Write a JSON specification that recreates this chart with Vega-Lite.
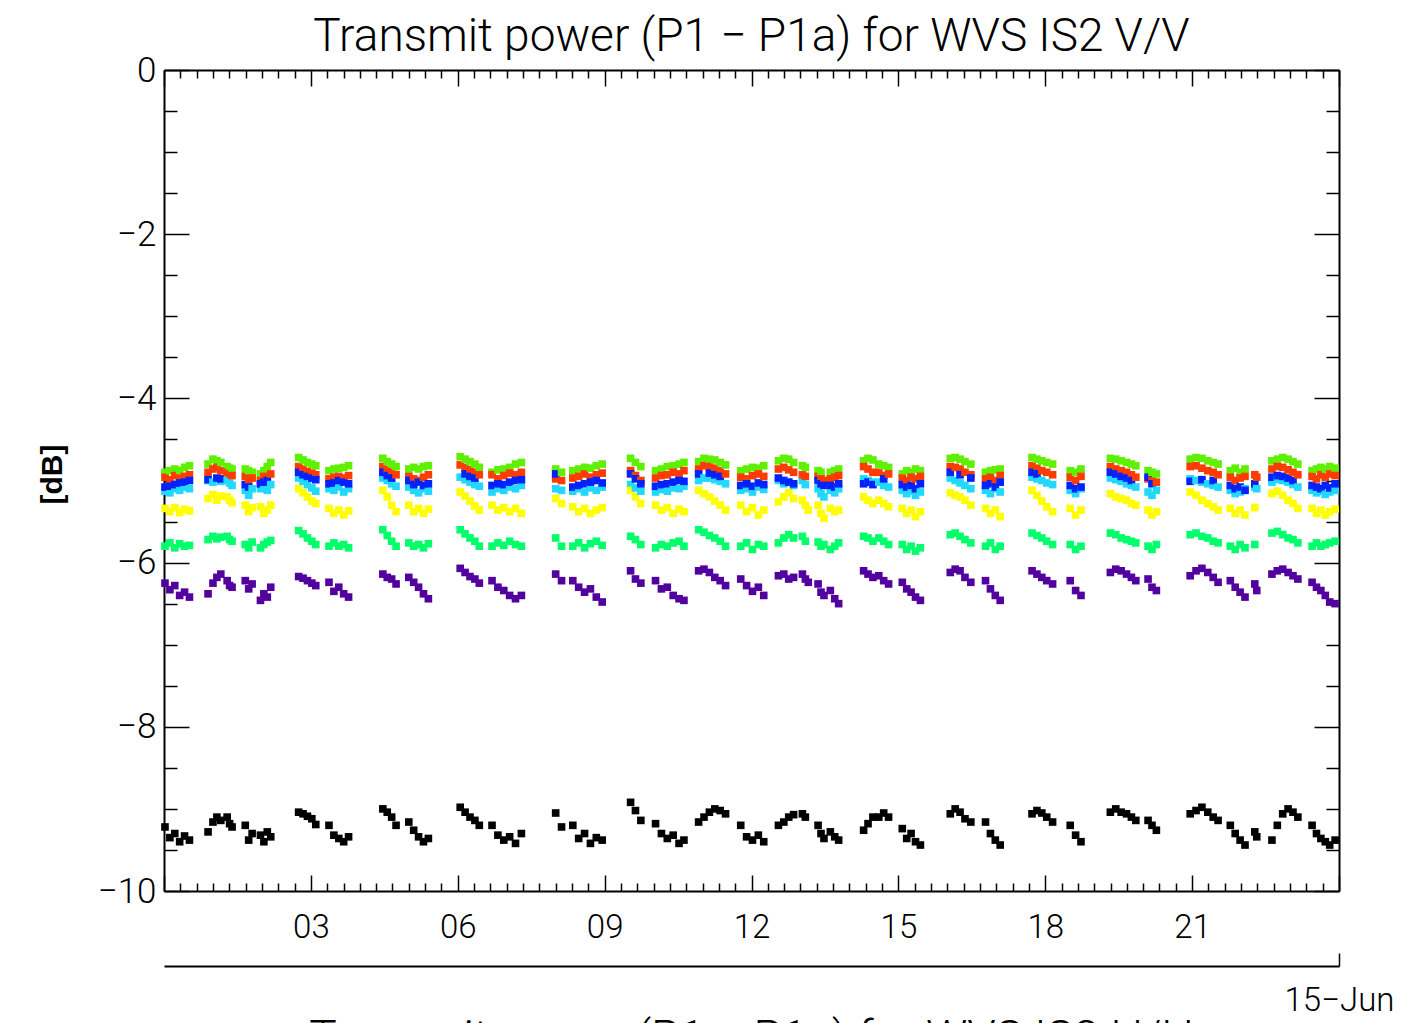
{
"$schema":"https://vega.github.io/schema/vega-lite/v6.json",
"width":1175,"height":821,
"autosize":{"type":"none"},
"padding":{"left":164,"top":70,"right":75,"bottom":132},
"background":"white",
"title":{"text":"Transmit power (P1 − P1a) for WVS IS2 V/V","font":"Roboto","fontWeight":300,"fontSize":46,"color":"#000","anchor":"middle","frame":"group","offset":-8},
"data":{"values":[
{"t":0.02,"g":-4.9,"r":-4.96,"b":-5.08,"c":-5.13,"y":-5.34,"s":-5.8,"p":-6.25,"k":-9.22},
{"t":0.12,"g":-4.88,"r":-4.99,"b":-5.07,"c":-5.15,"y":-5.38,"s":-5.76,"p":-6.33,"k":-9.35},
{"t":0.22,"g":-4.86,"r":-4.94,"b":-5.05,"c":-5.1,"y":-5.33,"s":-5.82,"p":-6.28,"k":-9.3},
{"t":0.32,"g":-4.88,"r":-4.97,"b":-5.03,"c":-5.12,"y":-5.39,"s":-5.77,"p":-6.4,"k":-9.4},
{"t":0.42,"g":-4.84,"r":-4.95,"b":-5.02,"c":-5.08,"y":-5.35,"s":-5.8,"p":-6.36,"k":-9.33},
{"t":0.52,"g":-4.82,"r":-4.93,"b":-5.0,"c":-5.1,"y":-5.37,"s":-5.79,"p":-6.42,"k":-9.38},
{"t":0.9,"g":-4.8,"r":-4.9,"b":-4.99,"c":-5.0,"y":-5.22,"s":-5.72,"p":-6.38,"k":-9.28},
{"t":1.0,"g":-4.74,"r":-4.86,"c":-5.02,"y":-5.17,"s":-5.68,"p":-6.25,"k":-9.16},
{"t":1.08,"g":-4.76,"r":-4.84,"b":-4.97,"c":-4.98,"y":-5.24,"s":-5.71,"p":-6.18,"k":-9.1},
{"t":1.16,"g":-4.78,"r":-4.88,"b":-4.98,"c":-5.01,"y":-5.19,"s":-5.69,"p":-6.14,"k":-9.14},
{"t":1.29,"g":-4.83,"r":-4.9,"c":-5.0,"y":-5.2,"s":-5.68,"p":-6.22,"k":-9.1},
{"t":1.34,"g":-4.85,"r":-4.92,"c":-5.03,"y":-5.24,"s":-5.72,"p":-6.28,"k":-9.18},
{"t":1.39,"g":-4.86,"r":-4.94,"c":-5.06,"y":-5.27,"s":-5.74,"p":-6.3,"k":-9.22},
{"t":1.66,"g":-4.86,"r":-4.95,"b":-5.05,"c":-5.12,"y":-5.3,"s":-5.78,"p":-6.22,"k":-9.2},
{"t":1.73,"g":-4.88,"r":-5.0,"b":-5.08,"c":-5.18,"y":-5.38,"s":-5.82,"p":-6.32,"k":-9.38},
{"t":1.8,"g":-4.9,"r":-4.97,"c":-5.1,"y":-5.33,"s":-5.75,"p":-6.26,"k":-9.3},
{"t":1.97,"g":-4.92,"r":-5.0,"b":-5.04,"c":-5.1,"y":-5.32,"s":-5.82,"p":-6.46,"k":-9.32},
{"t":2.04,"g":-4.88,"r":-4.95,"b":-5.02,"c":-5.07,"y":-5.4,"s":-5.78,"p":-6.38,"k":-9.4},
{"t":2.11,"g":-4.83,"r":-4.96,"b":-5.0,"c":-5.12,"y":-5.36,"s":-5.75,"p":-6.42,"k":-9.28},
{"t":2.18,"g":-4.78,"r":-4.92,"c":-5.05,"y":-5.3,"s":-5.73,"p":-6.3,"k":-9.34},
{"t":2.75,"g":-4.72,"r":-4.83,"b":-4.9,"c":-4.97,"y":-5.1,"s":-5.61,"p":-6.17,"k":-9.04},
{"t":2.84,"g":-4.75,"r":-4.86,"b":-4.93,"c":-5.01,"y":-5.15,"s":-5.65,"p":-6.19,"k":-9.06},
{"t":2.93,"g":-4.78,"r":-4.89,"b":-4.95,"c":-5.05,"y":-5.2,"s":-5.7,"p":-6.22,"k":-9.09},
{"t":3.02,"g":-4.8,"r":-4.91,"b":-4.97,"c":-5.09,"y":-5.25,"s":-5.74,"p":-6.25,"k":-9.12},
{"t":3.1,"g":-4.82,"r":-4.93,"b":-4.99,"c":-5.13,"y":-5.28,"s":-5.78,"p":-6.28,"k":-9.19},
{"t":3.37,"g":-4.88,"r":-4.98,"b":-5.04,"c":-5.1,"y":-5.34,"s":-5.8,"p":-6.24,"k":-9.2},
{"t":3.47,"g":-4.86,"r":-4.96,"b":-5.03,"c":-5.12,"y":-5.4,"s":-5.76,"p":-6.35,"k":-9.32},
{"t":3.57,"g":-4.85,"r":-4.95,"b":-5.0,"c":-5.08,"y":-5.36,"s":-5.8,"p":-6.3,"k":-9.36},
{"t":3.67,"g":-4.84,"r":-4.97,"b":-5.02,"c":-5.14,"y":-5.42,"s":-5.78,"p":-6.38,"k":-9.4},
{"t":3.77,"g":-4.82,"r":-4.94,"b":-5.04,"c":-5.1,"y":-5.37,"s":-5.82,"p":-6.42,"k":-9.34},
{"t":4.47,"g":-4.73,"r":-4.83,"b":-4.9,"c":-4.97,"y":-5.12,"s":-5.6,"p":-6.14,"k":-9.0},
{"t":4.56,"g":-4.77,"r":-4.87,"b":-4.94,"c":-5.0,"y":-5.2,"s":-5.67,"p":-6.18,"k":-9.04},
{"t":4.65,"g":-4.8,"r":-4.9,"b":-4.97,"c":-5.04,"y":-5.3,"s":-5.74,"p":-6.2,"k":-9.1},
{"t":4.74,"g":-4.83,"r":-4.93,"c":-5.07,"y":-5.38,"s":-5.8,"p":-6.26,"k":-9.2},
{"t":5.0,"g":-4.86,"r":-4.95,"b":-5.0,"c":-5.08,"y":-5.3,"s":-5.76,"p":-6.18,"k":-9.16},
{"t":5.1,"g":-4.84,"r":-4.98,"b":-5.05,"c":-5.12,"y":-5.38,"s":-5.8,"p":-6.24,"k":-9.26},
{"t":5.2,"g":-4.86,"r":-5.0,"b":-5.02,"c":-5.15,"y":-5.34,"s":-5.78,"p":-6.3,"k":-9.34},
{"t":5.3,"g":-4.83,"r":-4.96,"b":-5.06,"c":-5.1,"y":-5.4,"s":-5.82,"p":-6.38,"k":-9.4},
{"t":5.4,"g":-4.82,"r":-4.93,"b":-5.04,"c":-5.13,"y":-5.35,"s":-5.77,"p":-6.44,"k":-9.36},
{"t":6.05,"g":-4.71,"r":-4.81,"c":-4.96,"y":-5.14,"s":-5.6,"p":-6.07,"k":-8.98},
{"t":6.15,"g":-4.74,"r":-4.84,"b":-4.92,"c":-4.99,"y":-5.19,"s":-5.65,"p":-6.12,"k":-9.04},
{"t":6.25,"g":-4.77,"r":-4.87,"b":-4.95,"c":-5.02,"y":-5.25,"s":-5.7,"p":-6.17,"k":-9.1},
{"t":6.35,"g":-4.8,"r":-4.9,"b":-4.97,"c":-5.05,"y":-5.31,"s":-5.74,"p":-6.2,"k":-9.14},
{"t":6.44,"g":-4.84,"r":-4.93,"c":-5.07,"y":-5.36,"s":-5.8,"p":-6.25,"k":-9.2},
{"t":6.7,"g":-4.9,"r":-4.93,"b":-5.06,"c":-5.14,"y":-5.3,"s":-5.8,"p":-6.22,"k":-9.2},
{"t":6.82,"g":-4.87,"r":-4.98,"b":-5.04,"c":-5.1,"y":-5.36,"s":-5.76,"p":-6.3,"k":-9.32},
{"t":6.94,"g":-4.86,"r":-4.94,"b":-5.05,"c":-5.12,"y":-5.33,"s":-5.79,"p":-6.34,"k":-9.38},
{"t":7.06,"g":-4.84,"r":-4.91,"b":-5.02,"c":-5.08,"y":-5.38,"s":-5.74,"p":-6.4,"k":-9.34},
{"t":7.18,"g":-4.8,"r":-4.93,"b":-5.0,"c":-5.1,"y":-5.34,"s":-5.78,"p":-6.44,"k":-9.42},
{"t":7.3,"g":-4.78,"r":-4.9,"b":-4.99,"c":-5.06,"y":-5.4,"s":-5.8,"p":-6.4,"k":-9.3},
{"t":8.0,"g":-4.86,"r":-4.98,"b":-4.92,"c":-5.1,"y":-5.22,"s":-5.7,"p":-6.14,"k":-9.05},
{"t":8.12,"g":-4.9,"r":-5.0,"c":-5.12,"y":-5.28,"s":-5.8,"p":-6.22,"k":-9.22},
{"t":8.35,"g":-4.88,"r":-4.97,"b":-5.08,"c":-5.13,"y":-5.32,"s":-5.8,"p":-6.22,"k":-9.2},
{"t":8.47,"g":-4.86,"r":-4.95,"b":-5.06,"c":-5.1,"y":-5.38,"s":-5.76,"p":-6.3,"k":-9.36},
{"t":8.59,"g":-4.84,"r":-4.92,"b":-5.04,"c":-5.14,"y":-5.34,"s":-5.82,"p":-6.36,"k":-9.3},
{"t":8.71,"g":-4.85,"r":-4.96,"b":-5.02,"c":-5.09,"y":-5.4,"s":-5.77,"p":-6.32,"k":-9.42},
{"t":8.83,"g":-4.82,"r":-4.93,"b":-5.0,"c":-5.12,"y":-5.36,"s":-5.74,"p":-6.42,"k":-9.35},
{"t":8.95,"g":-4.8,"r":-4.91,"b":-5.03,"c":-5.08,"y":-5.33,"s":-5.79,"p":-6.48,"k":-9.38},
{"t":9.53,"g":-4.73,"r":-4.88,"b":-4.92,"c":-5.05,"y":-5.12,"s":-5.68,"p":-6.1,"k":-8.92},
{"t":9.63,"g":-4.78,"r":-4.94,"b":-4.98,"c":-5.09,"y":-5.2,"s":-5.72,"p":-6.2,"k":-9.02},
{"t":9.74,"g":-4.83,"r":-5.0,"b":-5.04,"c":-5.13,"y":-5.28,"s":-5.78,"p":-6.25,"k":-9.14},
{"t":10.04,"g":-4.88,"r":-4.97,"b":-5.07,"c":-5.14,"y":-5.3,"s":-5.82,"p":-6.22,"k":-9.18},
{"t":10.16,"g":-4.86,"r":-4.94,"b":-5.05,"c":-5.11,"y":-5.36,"s":-5.78,"p":-6.32,"k":-9.3},
{"t":10.28,"g":-4.83,"r":-4.93,"b":-5.04,"c":-5.13,"y":-5.33,"s":-5.8,"p":-6.3,"k":-9.36},
{"t":10.4,"g":-4.82,"r":-4.9,"b":-5.02,"c":-5.09,"y":-5.4,"s":-5.76,"p":-6.4,"k":-9.32},
{"t":10.52,"g":-4.8,"r":-4.92,"b":-5.0,"c":-5.1,"y":-5.35,"s":-5.74,"p":-6.44,"k":-9.42},
{"t":10.62,"g":-4.78,"r":-4.88,"b":-5.01,"c":-5.07,"y":-5.38,"s":-5.8,"p":-6.46,"k":-9.38},
{"t":10.92,"g":-4.77,"r":-4.86,"b":-4.92,"c":-5.0,"y":-5.12,"s":-5.6,"p":-6.1,"k":-9.16},
{"t":11.03,"g":-4.73,"r":-4.82,"c":-4.97,"y":-5.16,"s":-5.63,"p":-6.08,"k":-9.1},
{"t":11.14,"g":-4.74,"r":-4.83,"b":-4.91,"c":-4.97,"y":-5.2,"s":-5.67,"p":-6.12,"k":-9.04},
{"t":11.25,"g":-4.75,"r":-4.85,"b":-4.93,"c":-4.99,"y":-5.25,"s":-5.7,"p":-6.18,"k":-9.0},
{"t":11.36,"g":-4.78,"r":-4.88,"b":-4.95,"c":-5.01,"y":-5.3,"s":-5.74,"p":-6.22,"k":-9.02},
{"t":11.47,"g":-4.81,"r":-4.92,"c":-5.04,"y":-5.36,"s":-5.8,"p":-6.28,"k":-9.06},
{"t":11.78,"g":-4.88,"r":-4.96,"b":-5.06,"c":-5.12,"y":-5.3,"s":-5.8,"p":-6.2,"k":-9.2},
{"t":11.9,"g":-4.86,"r":-4.98,"b":-5.04,"c":-5.1,"y":-5.38,"s":-5.76,"p":-6.28,"k":-9.34},
{"t":12.02,"g":-4.84,"r":-4.94,"b":-5.07,"c":-5.14,"y":-5.33,"s":-5.84,"p":-6.35,"k":-9.38},
{"t":12.14,"g":-4.85,"r":-4.92,"b":-5.03,"c":-5.08,"y":-5.42,"s":-5.78,"p":-6.3,"k":-9.32},
{"t":12.25,"g":-4.82,"r":-4.95,"b":-5.05,"c":-5.11,"y":-5.36,"s":-5.8,"p":-6.4,"k":-9.4},
{"t":12.55,"g":-4.76,"r":-4.86,"b":-4.97,"c":-5.0,"y":-5.26,"s":-5.76,"p":-6.16,"k":-9.2},
{"t":12.66,"g":-4.73,"r":-4.84,"b":-5.0,"c":-5.04,"y":-5.2,"s":-5.7,"p":-6.14,"k":-9.16},
{"t":12.76,"g":-4.74,"r":-4.87,"b":-5.02,"c":-5.02,"y":-5.15,"s":-5.66,"p":-6.2,"k":-9.1},
{"t":12.86,"g":-4.78,"r":-4.9,"b":-5.04,"c":-5.06,"y":-5.22,"s":-5.7,"p":-6.18,"k":-9.07},
{"t":13.04,"g":-4.82,"r":-4.93,"c":-5.0,"y":-5.24,"s":-5.68,"p":-6.14,"k":-9.06},
{"t":13.1,"g":-4.84,"r":-4.95,"c":-5.05,"y":-5.3,"s":-5.74,"p":-6.2,"k":-9.1},
{"t":13.16,"y":-5.36,"p":-6.24},
{"t":13.36,"g":-4.88,"r":-4.95,"b":-5.0,"c":-5.1,"y":-5.3,"s":-5.75,"p":-6.26,"k":-9.2},
{"t":13.42,"g":-4.9,"r":-4.98,"b":-5.04,"c":-5.16,"y":-5.4,"s":-5.8,"p":-6.36,"k":-9.3},
{"t":13.48,"r":-5.0,"b":-5.06,"c":-5.2,"y":-5.46,"s":-5.78,"p":-6.4,"k":-9.36},
{"t":13.61,"g":-4.9,"r":-4.98,"b":-5.06,"c":-5.12,"y":-5.34,"s":-5.84,"p":-6.34,"k":-9.28},
{"t":13.7,"g":-4.88,"r":-4.96,"b":-5.08,"c":-5.15,"y":-5.38,"s":-5.8,"p":-6.44,"k":-9.34},
{"t":13.78,"g":-4.86,"r":-4.94,"b":-5.04,"c":-5.1,"y":-5.36,"s":-5.76,"p":-6.5,"k":-9.38},
{"t":14.29,"g":-4.76,"r":-4.83,"b":-5.04,"c":-4.98,"y":-5.2,"s":-5.68,"p":-6.1,"k":-9.26},
{"t":14.38,"g":-4.73,"r":-4.86,"b":-5.02,"c":-5.0,"y":-5.24,"s":-5.7,"p":-6.14,"k":-9.18},
{"t":14.48,"g":-4.75,"r":-4.9,"b":-5.05,"c":-5.02,"y":-5.28,"s":-5.74,"p":-6.18,"k":-9.1},
{"t":14.6,"g":-4.8,"r":-4.9,"c":-5.02,"y":-5.24,"s":-5.7,"p":-6.16,"k":-9.1},
{"t":14.7,"g":-4.82,"r":-4.94,"b":-4.98,"c":-5.06,"y":-5.28,"s":-5.74,"p":-6.22,"k":-9.05},
{"t":14.8,"g":-4.84,"r":-4.92,"c":-5.08,"y":-5.32,"s":-5.78,"p":-6.26,"k":-9.1},
{"t":15.08,"g":-4.92,"r":-4.97,"b":-5.05,"c":-5.12,"y":-5.34,"s":-5.78,"p":-6.24,"k":-9.24},
{"t":15.17,"g":-4.88,"r":-5.0,"b":-5.08,"c":-5.16,"y":-5.4,"s":-5.84,"p":-6.32,"k":-9.36},
{"t":15.26,"g":-4.9,"r":-4.96,"b":-5.06,"c":-5.13,"y":-5.36,"s":-5.8,"p":-6.36,"k":-9.3},
{"t":15.35,"g":-4.86,"r":-4.98,"b":-5.1,"c":-5.18,"y":-5.44,"s":-5.86,"p":-6.42,"k":-9.4},
{"t":15.45,"g":-4.88,"r":-4.95,"b":-5.04,"c":-5.14,"y":-5.38,"s":-5.82,"p":-6.46,"k":-9.44},
{"t":16.06,"g":-4.73,"r":-4.83,"b":-4.9,"c":-4.97,"y":-5.15,"s":-5.66,"p":-6.12,"k":-9.06},
{"t":16.16,"g":-4.72,"r":-4.84,"c":-5.0,"y":-5.18,"s":-5.64,"p":-6.08,"k":-9.0},
{"t":16.26,"g":-4.74,"r":-4.86,"b":-4.93,"c":-5.03,"y":-5.2,"s":-5.68,"p":-6.1,"k":-9.04},
{"t":16.36,"g":-4.77,"r":-4.9,"c":-5.06,"y":-5.24,"s":-5.72,"p":-6.18,"k":-9.12},
{"t":16.48,"g":-4.8,"r":-4.93,"b":-4.97,"c":-5.1,"y":-5.3,"s":-5.76,"p":-6.24,"k":-9.16},
{"t":16.78,"g":-4.9,"r":-4.98,"b":-5.06,"c":-5.12,"y":-5.34,"s":-5.8,"p":-6.22,"k":-9.16},
{"t":16.88,"g":-4.88,"r":-4.96,"b":-5.04,"c":-5.16,"y":-5.4,"s":-5.76,"p":-6.32,"k":-9.3},
{"t":16.98,"g":-4.87,"r":-5.0,"b":-5.08,"c":-5.1,"y":-5.36,"s":-5.84,"p":-6.4,"k":-9.38},
{"t":17.08,"g":-4.86,"r":-4.94,"b":-5.02,"c":-5.14,"y":-5.44,"s":-5.8,"p":-6.46,"k":-9.44},
{"t":17.73,"g":-4.72,"r":-4.82,"b":-4.9,"c":-4.96,"y":-5.12,"s":-5.64,"p":-6.1,"k":-9.06},
{"t":17.83,"g":-4.74,"r":-4.85,"b":-4.92,"c":-4.98,"y":-5.18,"s":-5.67,"p":-6.14,"k":-9.02},
{"t":17.93,"g":-4.76,"r":-4.88,"c":-5.0,"y":-5.25,"s":-5.7,"p":-6.18,"k":-9.05},
{"t":18.03,"g":-4.78,"r":-4.9,"c":-5.03,"y":-5.32,"s":-5.74,"p":-6.22,"k":-9.1},
{"t":18.15,"g":-4.8,"r":-4.93,"c":-5.05,"y":-5.38,"s":-5.78,"p":-6.26,"k":-9.16},
{"t":18.51,"g":-4.88,"r":-4.96,"b":-5.06,"c":-5.12,"y":-5.34,"s":-5.78,"p":-6.22,"k":-9.2},
{"t":18.62,"g":-4.9,"r":-5.0,"b":-5.1,"c":-5.16,"y":-5.42,"s":-5.84,"p":-6.34,"k":-9.32},
{"t":18.73,"g":-4.86,"r":-4.95,"b":-5.08,"c":-5.1,"y":-5.36,"s":-5.8,"p":-6.4,"k":-9.4},
{"t":19.33,"g":-4.73,"r":-4.83,"b":-4.9,"c":-4.97,"y":-5.16,"s":-5.64,"p":-6.12,"k":-9.04},
{"t":19.44,"g":-4.74,"r":-4.86,"b":-4.92,"c":-4.99,"y":-5.2,"s":-5.66,"p":-6.08,"k":-9.0},
{"t":19.55,"g":-4.76,"r":-4.88,"b":-4.95,"c":-5.01,"y":-5.22,"s":-5.7,"p":-6.1,"k":-9.04},
{"t":19.66,"g":-4.78,"r":-4.9,"b":-4.97,"c":-5.04,"y":-5.24,"s":-5.72,"p":-6.14,"k":-9.06},
{"t":19.76,"g":-4.8,"r":-4.93,"b":-5.0,"c":-5.06,"y":-5.28,"s":-5.74,"p":-6.18,"k":-9.1},
{"t":19.85,"g":-4.82,"r":-4.96,"c":-5.08,"y":-5.3,"s":-5.76,"p":-6.22,"k":-9.14},
{"t":20.1,"g":-4.88,"r":-4.98,"b":-4.96,"c":-5.14,"y":-5.36,"s":-5.8,"p":-6.2,"k":-9.14},
{"t":20.18,"g":-4.9,"r":-5.0,"b":-5.04,"c":-5.18,"y":-5.42,"s":-5.84,"p":-6.3,"k":-9.2},
{"t":20.27,"g":-4.92,"r":-5.02,"c":-5.12,"y":-5.38,"s":-5.78,"p":-6.34,"k":-9.26},
{"t":20.96,"g":-4.74,"r":-4.83,"b":-5.01,"c":-4.98,"y":-5.14,"s":-5.66,"p":-6.16,"k":-9.06},
{"t":21.08,"g":-4.72,"r":-4.82,"c":-5.0,"y":-5.18,"s":-5.64,"p":-6.1,"k":-9.02},
{"t":21.2,"g":-4.73,"r":-4.85,"b":-4.99,"c":-5.02,"y":-5.24,"s":-5.68,"p":-6.07,"k":-8.98},
{"t":21.32,"g":-4.76,"r":-4.88,"c":-5.04,"y":-5.28,"s":-5.7,"p":-6.12,"k":-9.04},
{"t":21.43,"g":-4.78,"r":-4.9,"b":-5.0,"c":-5.06,"y":-5.32,"s":-5.74,"p":-6.18,"k":-9.1},
{"t":21.53,"g":-4.8,"r":-4.93,"c":-5.08,"y":-5.36,"s":-5.76,"p":-6.24,"k":-9.14},
{"t":21.78,"g":-4.88,"r":-4.96,"b":-5.06,"c":-5.12,"y":-5.34,"s":-5.8,"p":-6.22,"k":-9.2},
{"t":21.88,"g":-4.85,"r":-5.0,"b":-5.1,"c":-5.16,"y":-5.4,"s":-5.84,"p":-6.3,"k":-9.3},
{"t":21.98,"g":-4.9,"r":-4.97,"b":-5.08,"c":-5.14,"y":-5.36,"s":-5.78,"p":-6.36,"k":-9.38},
{"t":22.08,"g":-4.86,"r":-4.95,"b":-5.12,"c":-5.1,"y":-5.42,"s":-5.82,"p":-6.42,"k":-9.44},
{"t":22.28,"r":-4.93,"b":-5.04,"c":-5.08,"y":-5.33,"s":-5.78,"p":-6.26,"k":-9.28},
{"t":22.32,"r":-4.96,"c":-5.1,"p":-6.34,"k":-9.34},
{"t":22.63,"g":-4.76,"r":-4.86,"b":-4.96,"c":-5.02,"y":-5.16,"s":-5.64,"p":-6.14,"k":-9.38},
{"t":22.74,"g":-4.74,"r":-4.83,"b":-4.94,"c":-4.99,"y":-5.13,"s":-5.62,"p":-6.1,"k":-9.2},
{"t":22.85,"g":-4.72,"r":-4.84,"b":-4.95,"c":-5.0,"y":-5.18,"s":-5.66,"p":-6.08,"k":-9.06},
{"t":22.96,"g":-4.74,"r":-4.87,"b":-4.97,"c":-5.02,"y":-5.24,"s":-5.7,"p":-6.12,"k":-9.0},
{"t":23.06,"g":-4.77,"r":-4.9,"b":-5.0,"c":-5.05,"y":-5.28,"s":-5.72,"p":-6.16,"k":-9.04},
{"t":23.16,"g":-4.8,"r":-4.93,"c":-5.08,"y":-5.34,"s":-5.76,"p":-6.2,"k":-9.1},
{"t":23.45,"g":-4.88,"r":-4.95,"b":-5.06,"c":-5.12,"y":-5.34,"s":-5.8,"p":-6.24,"k":-9.2},
{"t":23.54,"g":-4.86,"r":-4.98,"b":-5.08,"c":-5.15,"y":-5.4,"s":-5.76,"p":-6.3,"k":-9.3},
{"t":23.63,"g":-4.84,"r":-4.93,"b":-5.1,"c":-5.13,"y":-5.36,"s":-5.8,"p":-6.34,"k":-9.36},
{"t":23.72,"g":-4.86,"r":-4.96,"b":-5.06,"c":-5.17,"y":-5.42,"s":-5.78,"p":-6.4,"k":-9.4},
{"t":23.81,"g":-4.83,"r":-4.92,"b":-5.09,"c":-5.14,"y":-5.38,"s":-5.76,"p":-6.48,"k":-9.44},
{"t":23.92,"g":-4.85,"r":-4.94,"b":-5.04,"c":-5.12,"y":-5.35,"s":-5.74,"p":-6.5,"k":-9.38}
]},
"layer":[
{
"transform":[{"fold":["g","c","r","b","y","s","p","k"],"as":["series","value"]},{"filter":"isValid(datum.value)"}],
"mark":{"type":"square","size":58,"opacity":1,"filled":true},
"encoding":{
"x":{"field":"t","type":"quantitative","scale":{"domain":[0,24],"nice":false,"zero":false},
 "axis":{"orient":"bottom","title":null,"values":[0,0.3333,0.6667,1,1.3333,1.6667,2,2.3333,2.6667,3,3.3333,3.6667,4,4.3333,4.6667,5,5.3333,5.6667,6,6.3333,6.6667,7,7.3333,7.6667,8,8.3333,8.6667,9,9.3333,9.6667,10,10.3333,10.6667,11,11.3333,11.6667,12,12.3333,12.6667,13,13.3333,13.6667,14,14.3333,14.6667,15,15.3333,15.6667,16,16.3333,16.6667,17,17.3333,17.6667,18,18.3333,18.6667,19,19.3333,19.6667,20,20.3333,20.6667,21,21.3333,21.6667,22,22.3333,22.6667,23,23.3333,23.6667,24],
 "tickSize":{"condition":{"test":"datum.value % 3 === 0","value":-16},"value":-8},
 "labelExpr":"datum.value % 3 === 0 && datum.value > 0 && datum.value < 24 ? (datum.value < 10 ? '0' + datum.value : '' + datum.value) : ''",
 "labelPadding":36}},
"y":{"field":"value","type":"quantitative","scale":{"domain":[-10,0],"nice":false,"zero":false},
 "axis":{"orient":"left","title":"[dB]","values":[-10,-9.5,-9,-8.5,-8,-7.5,-7,-6.5,-6,-5.5,-5,-4.5,-4,-3.5,-3,-2.5,-2,-1.5,-1,-0.5,0],
 "tickSize":{"condition":{"test":"datum.value % 2 === 0","value":-25},"value":-13},
 "labelExpr":"datum.value % 2 === 0 ? format(datum.value, 'd') : ''",
 "labelPadding":33,"labelFontSize":35,
 "titleFont":"Liberation Sans","titleFontWeight":"bold","titleFontSize":30,"titleX":-112,"titleY":404,"titleAngle":-90,"titleAlign":"center","titleBaseline":"middle"}},
"color":{"field":"series","type":"nominal","scale":{"domain":["g","r","b","c","y","s","p","k"],"range":["#5ef000","#ff3c00","#0022ff","#22d8ff","#ffff00","#00ff6a","#52009e","#000000"]},"legend":null}
}
},
{
"data":{"values":[{}]},
"mark":{"type":"point","opacity":0},
"encoding":{
"x":{"datum":0,"type":"quantitative","axis":{"orient":"top","title":null,"labels":false,"values":[0,0.3333,0.6667,1,1.3333,1.6667,2,2.3333,2.6667,3,3.3333,3.6667,4,4.3333,4.6667,5,5.3333,5.6667,6,6.3333,6.6667,7,7.3333,7.6667,8,8.3333,8.6667,9,9.3333,9.6667,10,10.3333,10.6667,11,11.3333,11.6667,12,12.3333,12.6667,13,13.3333,13.6667,14,14.3333,14.6667,15,15.3333,15.6667,16,16.3333,16.6667,17,17.3333,17.6667,18,18.3333,18.6667,19,19.3333,19.6667,20,20.3333,20.6667,21,21.3333,21.6667,22,22.3333,22.6667,23,23.3333,23.6667,24],
 "tickSize":{"condition":{"test":"datum.value % 3 === 0","value":-16},"value":-8}}},
"y":{"datum":0,"type":"quantitative","axis":{"orient":"right","title":null,"labels":false,"values":[-10,-9.5,-9,-8.5,-8,-7.5,-7,-6.5,-6,-5.5,-5,-4.5,-4,-3.5,-3,-2.5,-2,-1.5,-1,-0.5,0],
 "tickSize":{"condition":{"test":"datum.value % 2 === 0","value":-25},"value":-13}}}
}
},
{
"data":{"values":[{}]},
"mark":{"type":"point","opacity":0},
"encoding":{
"x":{"datum":24,"type":"quantitative","axis":{"orient":"bottom","offset":75,"values":[24],"tickSize":-13,"labelExpr":"'15−Jun'","labelPadding":31,
 "title":"Transmit power (P1 − P1a) for WVS IS2 H/H","titleFont":"Roboto","titleFontWeight":300,"titleFontSize":46,"titleX":587,"titleY":50,"titleBaseline":"top","titleAlign":"center"}}
}
}
],
"resolve":{"axis":{"x":"independent","y":"independent"}},
"config":{
"view":{"stroke":null},
"axis":{"domainColor":"#000","domainWidth":2,"tickColor":"#000","tickWidth":1.5,"labelColor":"#000","titleColor":"#000","labelFont":"Roboto","labelFontWeight":300,"labelFontSize":33,"grid":false,"labelOverlap":false,"labelFlush":false,"labelBound":false,"zindex":1}
}
}
